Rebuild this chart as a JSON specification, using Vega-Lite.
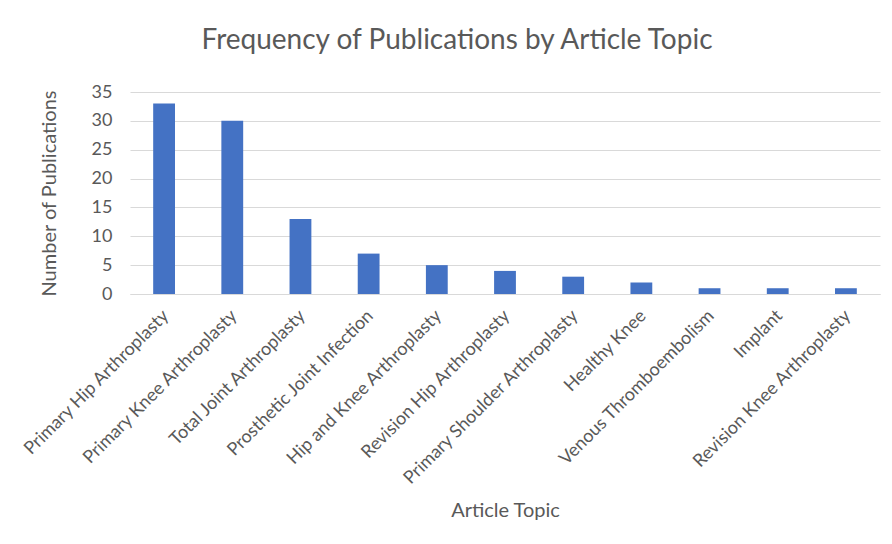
{
  "$schema": "https://vega.github.io/schema/vega-lite/v6.json",
  "width": 750,
  "height": 202,
  "autosize": {"type": "none"},
  "padding": {"left": 130, "top": 92, "right": 12, "bottom": 250},
  "background": "white",
  "title": {
    "text": "Frequency of Publications by Article Topic",
    "font": "Lato",
    "fontSize": 28,
    "fontWeight": "normal",
    "color": "#595959",
    "anchor": "middle",
    "dx": -48,
    "offset": 28
  },
  "data": {
    "values": [
      {"topic": "Primary Hip Arthroplasty", "count": 33},
      {"topic": "Primary Knee Arthroplasty", "count": 30},
      {"topic": "Total Joint Arthroplasty", "count": 13},
      {"topic": "Prosthetic Joint Infection", "count": 7},
      {"topic": "Hip and Knee Arthroplasty", "count": 5},
      {"topic": "Revision Hip Arthroplasty", "count": 4},
      {"topic": "Primary Shoulder Arthroplasty", "count": 3},
      {"topic": "Healthy Knee", "count": 2},
      {"topic": "Venous Thromboembolism", "count": 1},
      {"topic": "Implant", "count": 1},
      {"topic": "Revision Knee Arthroplasty", "count": 1}
    ]
  },
  "mark": {"type": "bar", "color": "#4472C4"},
  "encoding": {
    "x": {
      "field": "topic",
      "type": "nominal",
      "sort": null,
      "scale": {"paddingInner": 0.68, "paddingOuter": 0.34},
      "axis": {
        "title": "Article Topic",
        "labelAngle": -45,
        "labelAlign": "right",
        "labelBaseline": "middle",
        "labelPadding": 19,
        "labelOffset": 2,
        "labelFont": "Lato",
        "labelFontSize": 18,
        "labelColor": "#595959",
        "labelLimit": 400,
        "ticks": false,
        "domainColor": "#d9d9d9",
        "titleFont": "Lato",
        "titleFontSize": 20,
        "titleFontWeight": "normal",
        "titleColor": "#595959",
        "titleY": 206,
        "titleBaseline": "top"
      }
    },
    "y": {
      "field": "count",
      "type": "quantitative",
      "scale": {"domain": [0, 35]},
      "axis": {
        "title": "Number of Publications",
        "values": [0, 5, 10, 15, 20, 25, 30, 35],
        "ticks": false,
        "domain": false,
        "gridColor": "#d9d9d9",
        "labelPadding": 18,
        "labelFont": "Lato",
        "labelFontSize": 18,
        "labelColor": "#595959",
        "titleFont": "Lato",
        "titleFontSize": 20,
        "titleFontWeight": "normal",
        "titleColor": "#595959",
        "titlePadding": 32
      }
    }
  },
  "config": {"view": {"stroke": null}}
}
